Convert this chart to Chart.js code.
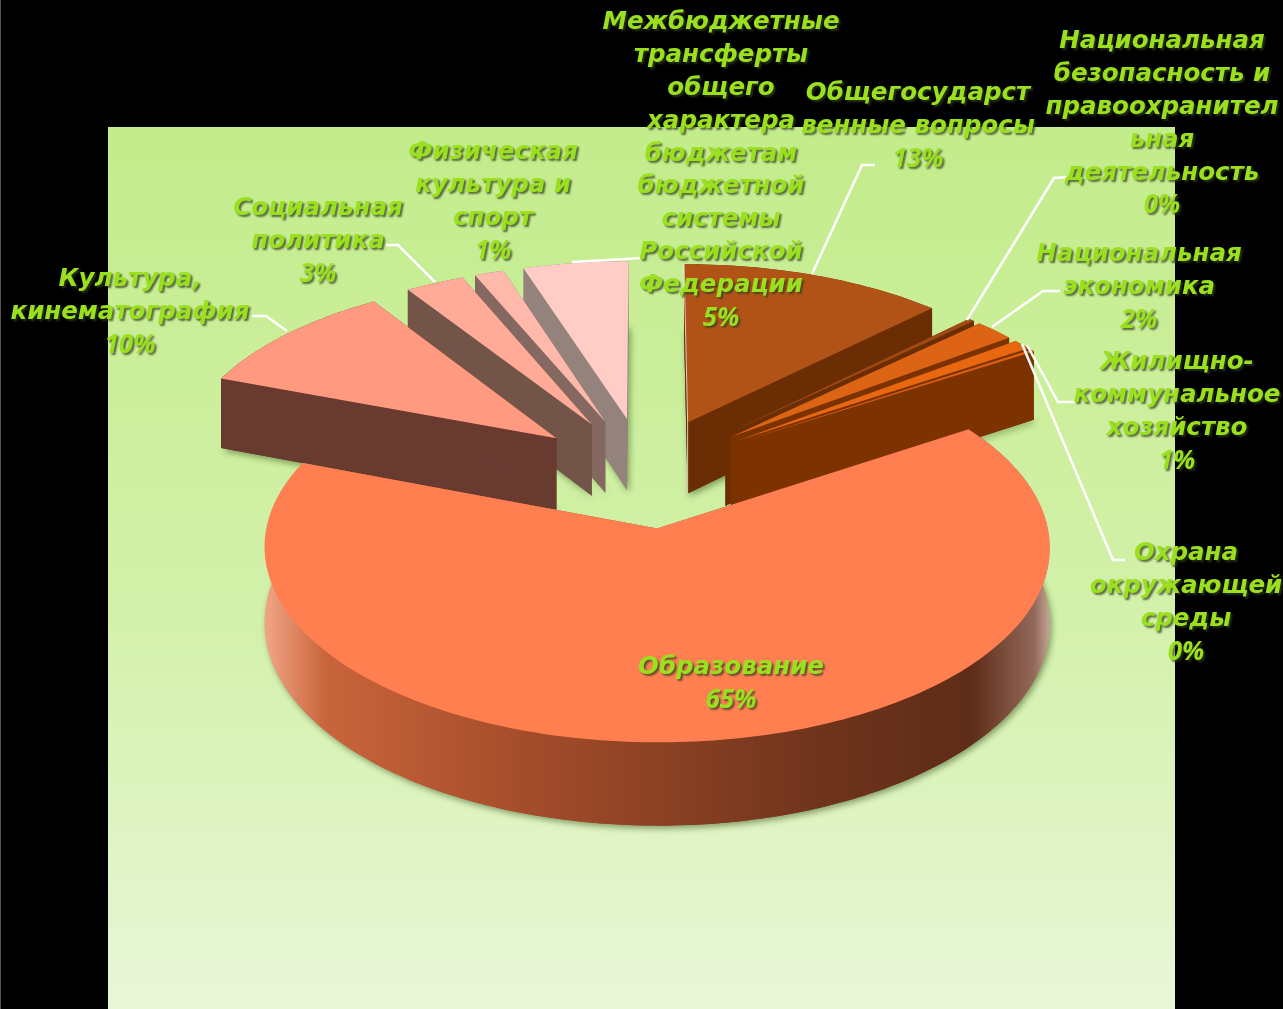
<!DOCTYPE html>
<html>
<head>
<meta charset="utf-8">
<title>Расходы бюджета</title>
<script src="https://cdn.jsdelivr.net/npm/chart.js@4"></script>
<style>
    html, body { margin: 0; padding: 0; background: #000; overflow: hidden; }
    #wrap { width: 1283px; height: 1009px; }
</style>
</head>
<body>
<div id="wrap"><canvas id="budgetChart" width="1283" height="1009"></canvas></div>
<script>
// Chart data
const categories = [
    'Общегосударст\nвенные вопросы',
    'Национальная\nбезопасность и\nправоохранител\nьная\nдеятельность',
    'Национальная\nэкономика',
    'Жилищно-\nкоммунальное\nхозяйство',
    'Охрана\nокружающей\nсреды',
    'Образование',
    'Культура,\nкинематография',
    'Социальная\nполитика',
    'Физическая\nкультура и\nспорт',
    'Межбюджетные\nтрансферты\nобщего\nхарактера\nбюджетам\nбюджетной\nсистемы\nРоссийской\nФедерации'
];
const shares = [12.6, 0.3, 1.9, 0.9, 0.2, 64.8, 10.1, 2.8, 1.4, 5.0];
const topColors = ['#b15317', '#a04a12', '#dd6415', '#e8670f', '#e06010', '#ff7f50', '#ff9a80', '#ffab98', '#ffb9aa', '#ffcdc6'];
const wallColors = ['#6b2e04', '#6b2e04', '#7a3300', '#7d3300', '#7d3300', '#7a3a20', '#683a30', '#735449', '#85685f', '#94827c'];

// Label placement: centre x, y of the first line, leader polyline
const labelBoxes = [
    { x: 918, y: 94, leader: [[875, 165], [862, 165], [812, 274]] },
    { x: 1162, y: 42, leader: [[1070, 177], [1054, 178], [967, 320]] },
    { x: 1139, y: 255, leader: [[1060, 291], [1043, 291], [992, 327]] },
    { x: 1177, y: 363, leader: [[1075, 402], [1058, 402], [1027, 345]] },
    { x: 1186, y: 554, leader: [[1125, 560], [1113, 560], [1022, 344]] },
    { x: 731, y: 668, leader: null },
    { x: 130, y: 280, leader: [[252, 316], [266, 316], [287, 331]] },
    { x: 318, y: 209, leader: [[386, 245], [398, 245], [435, 282]] },
    { x: 493, y: 153, leader: null },
    { x: 721, y: 23, leader: [[642, 258], [625, 259], [572, 262]] }
];

// 3D view settings
const TILT = 0.48;
const DEPTH = 4000;
const PIVOT = 110;
const THICK = 75;

function project(cx, cy, px, py, z) {
    const s = DEPTH / (DEPTH - (py - PIVOT));
    return [cx + px * s, cy + (py * TILT + z) * s];
}

function slicePoints(arc, z) {
    const { x, y, startAngle, endAngle, outerRadius } = arc;
    const mid = (startAngle + endAngle) / 2;
    const off = arc.options.offset;
    const ox = Math.cos(mid) * off;
    const oy = Math.sin(mid) * off;
    const pts = [];
    const steps = Math.max(2, Math.ceil((endAngle - startAngle) / 0.02));
    for (let i = 0; i <= steps; i++) {
        const a = startAngle + (endAngle - startAngle) * i / steps;
        pts.push(project(x, y, ox + Math.cos(a) * outerRadius, oy + Math.sin(a) * outerRadius, z));
    }
    return { rim: pts, apex: project(x, y, ox, oy, z) };
}

function fillPoly(ctx, pts, fill) {
    ctx.beginPath();
    pts.forEach((p, i) => i ? ctx.lineTo(p[0], p[1]) : ctx.moveTo(p[0], p[1]));
    ctx.closePath();
    ctx.fillStyle = fill;
    ctx.fill();
}

function frontGradient(ctx) {
    const g = ctx.createLinearGradient(262, 0, 1050, 0);
    g.addColorStop(0, '#f3a98a');
    g.addColorStop(0.08, '#c9653c');
    g.addColorStop(0.3, '#a94f2c');
    g.addColorStop(0.7, '#70341c');
    g.addColorStop(0.9, '#5e2c18');
    g.addColorStop(0.98, '#93695a');
    g.addColorStop(1, '#c4a698');
    return g;
}

const pie3d = {
    id: 'pie3d',
    beforeDraw(chart) {
        const { ctx } = chart;
        ctx.save();
        ctx.fillStyle = '#000';
        ctx.fillRect(0, 0, chart.width, chart.height);
        const g = ctx.createLinearGradient(0, 127, 0, 1009);
        g.addColorStop(0, '#c3ec8b');
        g.addColorStop(0.55, '#d3f1aa');
        g.addColorStop(1, '#e9f6d8');
        ctx.fillStyle = g;
        ctx.fillRect(108, 127, 1067, 882);
        ctx.fillStyle = '#555';
        ctx.fillRect(0, 0, 1, chart.height);
        ctx.restore();
    },
    // the library's flat arcs are replaced by projected ones
    beforeDatasetDraw(chart) {
        const { ctx } = chart;
        const arcs = chart.getDatasetMeta(0).data;
        const order = arcs.map((a, i) => i).sort((p, q) => {
            const mid = a => Math.sin((a.startAngle + a.endAngle) / 2);
            return mid(arcs[p]) - mid(arcs[q]);
        });
        order.forEach(i => {
            const arc = arcs[i];
            const top = slicePoints(arc, 0);
            const bottom = slicePoints(arc, THICK);
            const wall = shares[i] > 50 ? frontGradient(ctx) : wallColors[i];

            ctx.save();
            ctx.shadowColor = 'rgba(60, 85, 30, 0.55)';
            ctx.shadowBlur = 6;
            ctx.shadowOffsetX = 2;
            ctx.shadowOffsetY = 3;
            fillPoly(ctx, bottom.rim.concat([bottom.apex]), wall);
            ctx.restore();

            const first = top.rim[0], last = top.rim[top.rim.length - 1];
            const bFirst = bottom.rim[0], bLast = bottom.rim[bottom.rim.length - 1];
            fillPoly(ctx, top.rim.concat(bottom.rim.slice().reverse()), wall);
            fillPoly(ctx, [top.apex, first, bFirst, bottom.apex], wall);
            fillPoly(ctx, [top.apex, last, bLast, bottom.apex], wall);
            fillPoly(ctx, top.rim.concat([top.apex]), topColors[i]);

            // thin light edge on the first slice
            if (i === 0) {
                ctx.beginPath();
                ctx.moveTo(first[0], first[1]);
                ctx.lineTo(top.apex[0], top.apex[1]);
                ctx.lineTo(bottom.apex[0], bottom.apex[1]);
                ctx.strokeStyle = 'rgba(255, 255, 255, 0.75)';
                ctx.lineWidth = 1;
                ctx.stroke();
            }
        });
        return false;
    },
    afterDatasetsDraw(chart) {
        const { ctx } = chart;
        const total = shares.reduce((a, b) => a + b, 0);
        ctx.save();
        ctx.strokeStyle = '#fff';
        ctx.lineWidth = 2.5;
        labelBoxes.forEach(box => {
            if (!box.leader) return;
            ctx.beginPath();
            box.leader.forEach((p, i) => i ? ctx.lineTo(p[0], p[1]) : ctx.moveTo(p[0], p[1]));
            ctx.stroke();
        });
        ctx.textAlign = 'center';
        ctx.textBaseline = 'middle';
        ctx.fillStyle = '#9be01f';
        ctx.shadowColor = 'rgba(50, 60, 30, 0.75)';
        ctx.shadowBlur = 2;
        ctx.shadowOffsetX = 2;
        ctx.shadowOffsetY = 2;
        categories.forEach((name, i) => {
            const lines = name.split('\n');
            const box = labelBoxes[i];
            ctx.font = 'italic bold 24.5px "DejaVu Sans"';
            lines.forEach((line, n) => {
                ctx.fillText(line, box.x, box.y + n * 32.8);
            });
            ctx.font = 'italic bold 26px "Open Sans"';
            ctx.fillText(Math.round(shares[i] / total * 100) + '%', box.x, box.y + lines.length * 32.8);
        });
        ctx.restore();
    }
};

document.addEventListener('DOMContentLoaded', function() {
    const ctx = document.getElementById('budgetChart').getContext('2d');
    new Chart(ctx, {
        type: 'pie',
        data: {
            labels: categories,
            datasets: [{
                data: shares,
                backgroundColor: topColors,
                borderWidth: 0,
                offset: 118
            }]
        },
        options: {
            responsive: false,
            animation: false,
            radius: 390,
            layout: { padding: { left: 6, bottom: 65 } },
            plugins: {
                legend: { display: false },
                tooltip: { enabled: false }
            }
        },
        plugins: [pie3d]
    });
});
</script>
</body>
</html>
